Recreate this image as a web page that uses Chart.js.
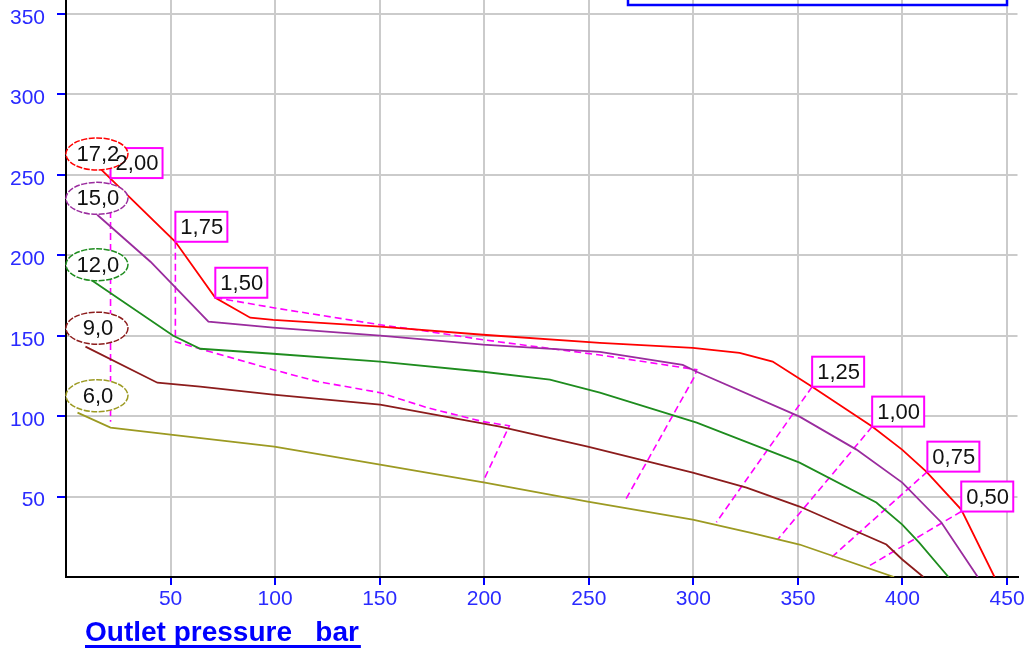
<!DOCTYPE html>
<html>
<head>
<meta charset="utf-8">
<script src="https://cdn.jsdelivr.net/npm/chart.js@4.4.1/dist/chart.umd.min.js"></script>
<style>
    html, body { margin: 0; padding: 0; background: #fff; overflow: hidden; }
    #chart { display: block; }
</style>
</head>
<body>
<canvas id="chart" width="1030" height="651" style="width:1030px;height:651px"></canvas>
<script>
// tick labels
const xTicks = [50, 100, 150, 200, 250, 300, 350, 400, 450];
const yTicks = [50, 100, 150, 200, 250, 300, 350];

// curves: [outlet pressure, value]
const curve172 = [[16.5, 253.7], [52.3, 208.4], [71.4, 173.6], [88.1, 161.2], [99.1, 159.9], [150.2, 155.6], [199.4, 150.6], [255.3, 145.6], [299.7, 142.5], [322.1, 139.4], [337.9, 133.9], [356.8, 118.3], [385.5, 93.5], [399.8, 79.2], [411.4, 65.5], [428.1, 41.9], [444, 0]];
const curve150 = [[14.9, 225.2], [40.4, 196], [68.1, 158.7], [99.1, 155], [150.2, 150], [199.4, 144.4], [255.3, 140], [294.9, 131.9], [301.6, 127.6], [350.8, 99.7], [378, 79.2], [399.9, 58.7], [418.6, 33.9], [436, 0]];
const curve120 = [[11.2, 185.4], [51.3, 150], [64.2, 141.9], [99.1, 138.8], [150.2, 133.9], [199.4, 127.6], [231.4, 122.7], [255.3, 114.6], [301.6, 96], [350.8, 71.1], [387.5, 46.3], [399.9, 32.6], [408, 21.4], [422, 0]];
const curve90 = [[9.3, 143.2], [43.7, 120.8], [64.2, 118.3], [99.1, 113.4], [150.2, 107.1], [207.5, 93.5], [249.5, 81.1], [299.7, 64.9], [325.4, 55.6], [350.8, 43.8], [392.3, 20.2], [399.9, 10.9], [410, 0]];
const curve60 = [[5.5, 102.2], [21.3, 92.9], [50, 88.5], [99.6, 81.1], [150.2, 69.9], [200.3, 58.7], [249.5, 46.9], [299.7, 35.7], [327.1, 27.6], [350.8, 20.2], [396, 0]];

const curveNames = ['17,2', '15,0', '12,0', '9,0', '6,0'];
const curveColors = ['#ff0000', '#9a2c9e', '#1e8c1e', '#8c1c1c', '#9c9a22'];
const curveData = [curve172, curve150, curve120, curve90, curve60];
// centre of the ellipse label for each curve
const curveLabelPos = [[14.8, 263], [14.8, 235.4], [14.8, 194.1], [14.8, 154.7], [14.8, 112.7]];

// dashed magenta lines
const iso200 = [[21.3, 248], [21.3, 96.5]];
const iso175 = [[52.3, 208.4], [52.3, 146.3], [69, 140], [99.1, 128.9], [120, 121.6], [150.2, 114.6], [172.6, 105.3], [199.4, 96.6], [212, 94], [199.4, 59.3]];
const iso150 = [[71.4, 173.6], [77.1, 172.4], [99.1, 167.4], [150.2, 156.8], [167.8, 153.7], [199.4, 147.5], [255.3, 138], [301.6, 128.9], [300.6, 124.7], [267.2, 47.1]];
const iso125 = [[356.8, 118.3], [311, 34]];
const iso100 = [[385.5, 93.5], [340.3, 23.3]];
const iso075 = [[411.9, 65.5], [366.3, 12.5]];
const iso050 = [[428.1, 40.7], [384.2, 7]];

const isoNames = ['2,00', '1,75', '1,50', '1,25', '1,00', '0,75', '0,50'];
const isoData = [iso200, iso175, iso150, iso125, iso100, iso075, iso050];

function toPoints(arr) {
    return arr.map(p => ({ x: p[0], y: p[1] }));
}

var datasets = [];
curveData.forEach((arr, i) => {
    datasets.push({
        label: curveNames[i],
        data: toPoints(arr),
        showLine: true,
        borderColor: curveColors[i],
        borderWidth: 1.8,
        pointRadius: 0,
        tension: 0
    });
});
isoData.forEach((arr, i) => {
    datasets.push({
        label: isoNames[i],
        data: toPoints(arr),
        showLine: true,
        borderColor: '#ff00ff',
        borderWidth: 1.6,
        borderDash: [7, 4],
        pointRadius: 0,
        tension: 0
    });
});

const labelFont = '22px "Liberation Sans", Arial, sans-serif';

// ellipses, boxes, axis title and the clipped legend frame
const overlayPlugin = {
    id: 'overlay',
    afterDatasetsDraw(chart) {
        const ctx = chart.ctx;
        const xs = chart.scales.x;
        const ys = chart.scales.y;
        ctx.save();

        // label boxes of the dashed lines
        isoData.forEach((arr, i) => {
            const px = xs.getPixelForValue(arr[0][0]);
            const py = ys.getPixelForValue(arr[0][1]);
            ctx.fillStyle = '#ffffff';
            ctx.fillRect(px, py - 30, 52, 30);
            ctx.strokeStyle = '#ff00ff';
            ctx.lineWidth = 2;
            ctx.setLineDash([]);
            ctx.strokeRect(px, py - 30, 52, 30);
        });

        // ellipses
        curveLabelPos.forEach((p, i) => {
            const cx = xs.getPixelForValue(p[0]);
            const cy = ys.getPixelForValue(p[1]);
            ctx.beginPath();
            ctx.ellipse(cx, cy, 31, 16, 0, 0, Math.PI * 2);
            ctx.fillStyle = '#ffffff';
            ctx.fill();
            ctx.setLineDash([6, 1.5]);
            ctx.lineWidth = 1.5;
            ctx.strokeStyle = curveColors[i];
            ctx.stroke();
        });
        ctx.setLineDash([]);

        ctx.font = labelFont;
        ctx.fillStyle = '#111111';
        ctx.textBaseline = 'middle';
        ctx.textAlign = 'left';
        isoData.forEach((arr, i) => {
            const px = xs.getPixelForValue(arr[0][0]);
            const py = ys.getPixelForValue(arr[0][1]);
            ctx.fillText(isoNames[i], px + 5, py - 14);
        });
        ctx.textAlign = 'center';
        curveLabelPos.forEach((p, i) => {
            ctx.fillText(curveNames[i], xs.getPixelForValue(p[0]) + 1, ys.getPixelForValue(p[1]) + 1);
        });

        // axis title
        const title = 'Outlet pressure   bar';
        ctx.font = 'bold 28px "Liberation Sans", Arial, sans-serif';
        ctx.fillStyle = '#0000ff';
        ctx.textAlign = 'left';
        ctx.textBaseline = 'alphabetic';
        ctx.fillText(title, 85, 641);
        const w = ctx.measureText(title).width;
        ctx.fillRect(85, 645, w + 2, 3);

        // legend frame cut by the top edge
        ctx.strokeStyle = '#0000ff';
        ctx.lineWidth = 2.5;
        ctx.strokeRect(628, -30, 379, 35);
        ctx.restore();
    }
};

const tickFont = { family: '"Liberation Sans", Arial, sans-serif', size: 21 };

const myChart = new Chart(document.getElementById('chart'), {
    type: 'scatter',
    data: { datasets: datasets },
    options: {
        responsive: false,
        animation: false,
        devicePixelRatio: 1,
        layout: { padding: { top: 0, right: 12.5, bottom: 0, left: 0 } },
        plugins: {
            legend: { display: false },
            tooltip: { enabled: false }
        },
        scales: {
            x: {
                type: 'linear',
                min: 0,
                max: 455,
                afterBuildTicks: function (scale) {
                    scale.ticks = xTicks.map(v => ({ value: v }));
                },
                afterFit: function (scale) {
                    scale.height = 74;
                    scale.paddingLeft = 0;
                    scale.paddingRight = 0;
                },
                grid: {
                    color: '#cbcbcb',
                    lineWidth: 2,
                    drawTicks: true,
                    tickLength: 8,
                    tickColor: '#0000ff',
                    tickWidth: 2
                },
                border: { display: true, color: '#000000', width: 2 },
                ticks: {
                    color: '#2a2aff',
                    font: tickFont,
                    padding: 2,
                    maxRotation: 0,
                    autoSkip: false
                }
            },
            y: {
                type: 'linear',
                min: 0,
                max: 358.7,
                afterBuildTicks: function (scale) {
                    scale.ticks = yTicks.map(v => ({ value: v }));
                },
                afterFit: function (scale) {
                    scale.width = 66;
                    scale.paddingTop = 0;
                    scale.paddingBottom = 0;
                },
                grid: {
                    color: '#cbcbcb',
                    lineWidth: 2,
                    drawTicks: true,
                    tickLength: 9,
                    tickColor: '#0000ff',
                    tickWidth: 2
                },
                border: { display: true, color: '#000000', width: 2 },
                ticks: {
                    color: '#2a2aff',
                    font: tickFont,
                    padding: 12,
                    labelOffset: 4,
                    autoSkip: false
                }
            }
        }
    },
    plugins: [overlayPlugin]
});
</script>
</body>
</html>
